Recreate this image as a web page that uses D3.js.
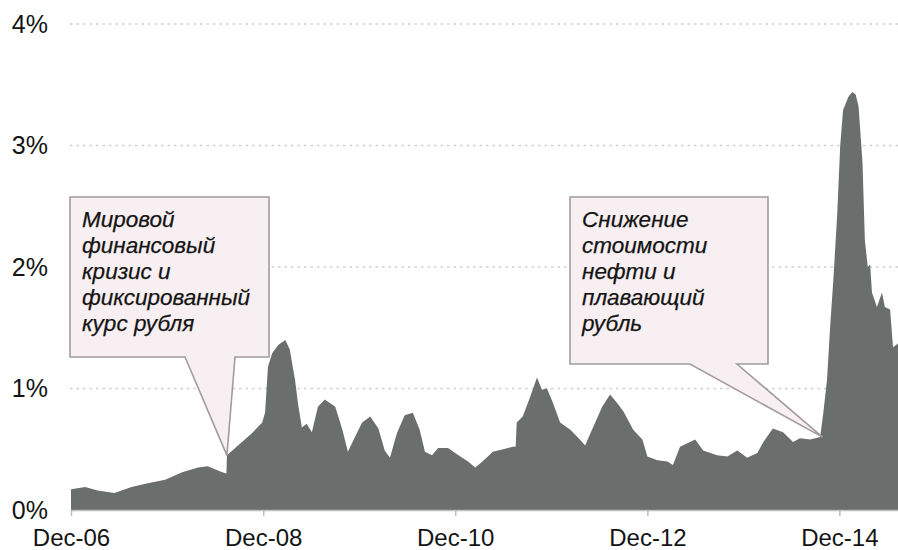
<!DOCTYPE html>
<html>
<head>
<meta charset="utf-8">
<script src="https://cdn.jsdelivr.net/npm/d3@7"></script>
<style>
  html, body { margin: 0; padding: 0; background: #fff; }
  svg { display: block; font-family: "Liberation Sans", Arial, sans-serif; }
</style>
</head>
<body>
<svg id="chart" width="898" height="550"></svg>
<script>
// Observation dates and values (%) of the series
const dates = [
  "2006-12-01","2007-01-24","2007-03-12","2007-05-15","2007-07-19","2007-09-19","2007-11-24",
  "2008-01-28","2008-03-28","2008-05-04","2008-06-28","2008-07-14","2008-07-16","2008-08-27",
  "2008-10-18","2008-11-27","2008-12-08","2008-12-19","2009-01-04","2009-01-28","2009-02-23",
  "2009-03-12","2009-04-01","2009-04-12","2009-04-27","2009-05-15","2009-06-04","2009-06-27",
  "2009-07-23","2009-09-01","2009-09-28","2009-10-19","2009-11-15","2009-12-12","2010-01-12",
  "2010-02-12","2010-03-08","2010-03-28","2010-04-23","2010-05-23","2010-06-23","2010-07-19",
  "2010-08-08","2010-09-04","2010-09-27","2010-11-04","2010-12-01","2010-12-28","2011-01-19",
  "2011-02-15","2011-03-15","2011-04-23","2011-06-01","2011-07-08","2011-07-19","2011-07-23",
  "2011-08-15","2011-09-12","2011-10-08","2011-10-27","2011-11-15","2011-12-08","2012-01-04",
  "2012-02-12","2012-03-19","2012-04-08","2012-05-08","2012-06-12","2012-07-12","2012-08-08",
  "2012-09-01","2012-10-08","2012-11-12","2012-12-01","2013-01-08","2013-02-15","2013-03-08",
  "2013-04-04","2013-06-01","2013-07-01","2013-08-23","2013-10-01","2013-11-08","2013-12-15",
  "2014-01-23","2014-02-15","2014-03-23","2014-05-01","2014-06-08","2014-07-04","2014-08-12",
  "2014-09-19","2014-10-01","2014-10-15","2014-10-27","2014-11-08","2014-11-23","2014-12-04",
  "2014-12-15","2015-01-04","2015-01-19","2015-02-01","2015-02-12","2015-02-27","2015-03-08",
  "2015-03-19","2015-03-28","2015-04-04","2015-04-23","2015-05-12","2015-05-23","2015-06-12",
  "2015-06-23","2015-07-12"
];
const values = [
  0.17,0.19,0.16,0.14,0.19,0.22,0.25,
  0.31,0.35,0.36,0.31,0.30,0.45,0.53,
  0.63,0.72,0.80,1.18,1.29,1.36,1.40,
  1.32,1.07,0.88,0.68,0.71,0.64,0.85,
  0.91,0.85,0.66,0.48,0.60,0.72,0.77,
  0.67,0.49,0.43,0.63,0.78,0.80,0.66,
  0.48,0.45,0.51,0.51,0.47,0.43,0.40,
  0.35,0.40,0.48,0.50,0.52,0.52,0.72,
  0.77,0.93,1.09,0.99,1.00,0.88,0.72,
  0.66,0.58,0.53,0.68,0.85,0.95,0.88,
  0.81,0.66,0.58,0.44,0.41,0.40,0.37,
  0.52,0.58,0.49,0.45,0.44,0.49,0.43,
  0.47,0.56,0.67,0.64,0.56,0.59,0.58,
  0.60,0.80,1.07,1.51,1.89,2.44,2.99,
  3.29,3.40,3.44,3.42,3.32,2.86,2.22,
  2.00,2.02,1.79,1.67,1.79,1.67,1.65,
  1.34,1.37
];

// Axis ticks
const xTickDates = ["2006-12-01","2008-12-01","2010-12-01","2012-12-01","2014-12-01"];
const yTickValues = [0, 1, 2, 3, 4];

// Annotation texts and the points they refer to
const note1Lines = ["Мировой", "финансовый", "кризис и", "фиксированный", "курс рубля"];
const note1Point = { date: "2008-07-16", value: 0.45 };
const note2Lines = ["Снижение", "стоимости", "нефти и", "плавающий", "рубль"];
const note2Point = { date: "2014-09-28", value: 0.60 };

const parse = d3.timeParse("%Y-%m-%d");
const data = dates.map((d, i) => ({ date: parse(d), value: values[i] }));

const svg = d3.select("#chart");
const plot = { left: 71, right: 898, top: 24, bottom: 510 };

const x = d3.scaleTime()
  .domain([parse("2006-12-01"), parse("2015-07-12")])
  .range([plot.left, plot.right]);
const y = d3.scaleLinear().domain([0, 4]).range([plot.bottom, plot.top]);

// Dotted horizontal gridlines
svg.append("g")
  .selectAll("line")
  .data(yTickValues.filter(v => v > 0))
  .join("line")
  .attr("x1", plot.left - 1).attr("x2", plot.right)
  .attr("y1", d => y(d)).attr("y2", d => y(d))
  .attr("stroke", "#cfcfcf")
  .attr("stroke-width", 1.5)
  .attr("stroke-dasharray", "2.5,4");

// Area
const area = d3.area()
  .x(d => x(d.date))
  .y0(y(0))
  .y1(d => y(d.value));
svg.append("path")
  .datum(data)
  .attr("d", area)
  .attr("fill", "#6a6e6c");

// X axis
const xAxis = d3.axisBottom(x)
  .tickValues(xTickDates.map(parse))
  .tickFormat(d3.timeFormat("%b-%y"))
  .tickSize(6)
  .tickPadding(13);
const gx = svg.append("g")
  .attr("transform", `translate(0,${plot.bottom})`)
  .call(xAxis);
gx.select(".domain").attr("stroke", "#bdbdbd").attr("stroke-width", 1.5)
  .attr("d", `M${plot.left},0.5H${plot.right}`);
gx.selectAll(".tick line").attr("stroke", "#bdbdbd").attr("stroke-width", 1.5);
gx.selectAll(".tick text")
  .attr("font-size", 24)
  .attr("fill", "#141414")
  .attr("font-family", "Liberation Sans, Arial, sans-serif");

// Y axis
const yAxis = d3.axisLeft(y)
  .tickValues(yTickValues)
  .tickFormat(d => d + "%")
  .tickSize(0)
  .tickPadding(0);
const gy = svg.append("g")
  .attr("transform", `translate(48,0)`)
  .call(yAxis);
gy.select(".domain").remove();
gy.selectAll(".tick text")
  .attr("font-size", 25)
  .attr("fill", "#141414")
  .attr("font-family", "Liberation Sans, Arial, sans-serif");

// Callout boxes with pointers to the series
function callout(box, base, point, lines) {
  const tx = x(parse(point.date)), ty = y(point.value);
  const p = [
    [box.x0, box.y0], [box.x1, box.y0], [box.x1, box.y1],
    [base[1], box.y1], [tx, ty], [base[0], box.y1], [box.x0, box.y1]
  ];
  const g = svg.append("g");
  g.append("path")
    .attr("d", "M" + p.map(q => q.join(",")).join("L") + "Z")
    .attr("fill", "#f7eff1")
    .attr("stroke", "#a39c9d")
    .attr("stroke-width", 1.6)
    .attr("stroke-linejoin", "miter");
  g.selectAll("text")
    .data(lines)
    .join("text")
    .attr("x", box.x0 + 12)
    .attr("y", (d, i) => box.y0 + 30 + i * 26)
    .attr("font-size", 22.5)
    .attr("font-style", "italic")
    .attr("fill", "#141414")
    .attr("stroke", "#141414")
    .attr("stroke-width", 0.25)
    .text(d => d);
}

callout({ x0: 70, y0: 197, x1: 269, y1: 357 }, [185, 235], note1Point, note1Lines);
callout({ x0: 570, y0: 197, x1: 768, y1: 364 }, [690, 737], note2Point, note2Lines);
</script>
</body>
</html>
